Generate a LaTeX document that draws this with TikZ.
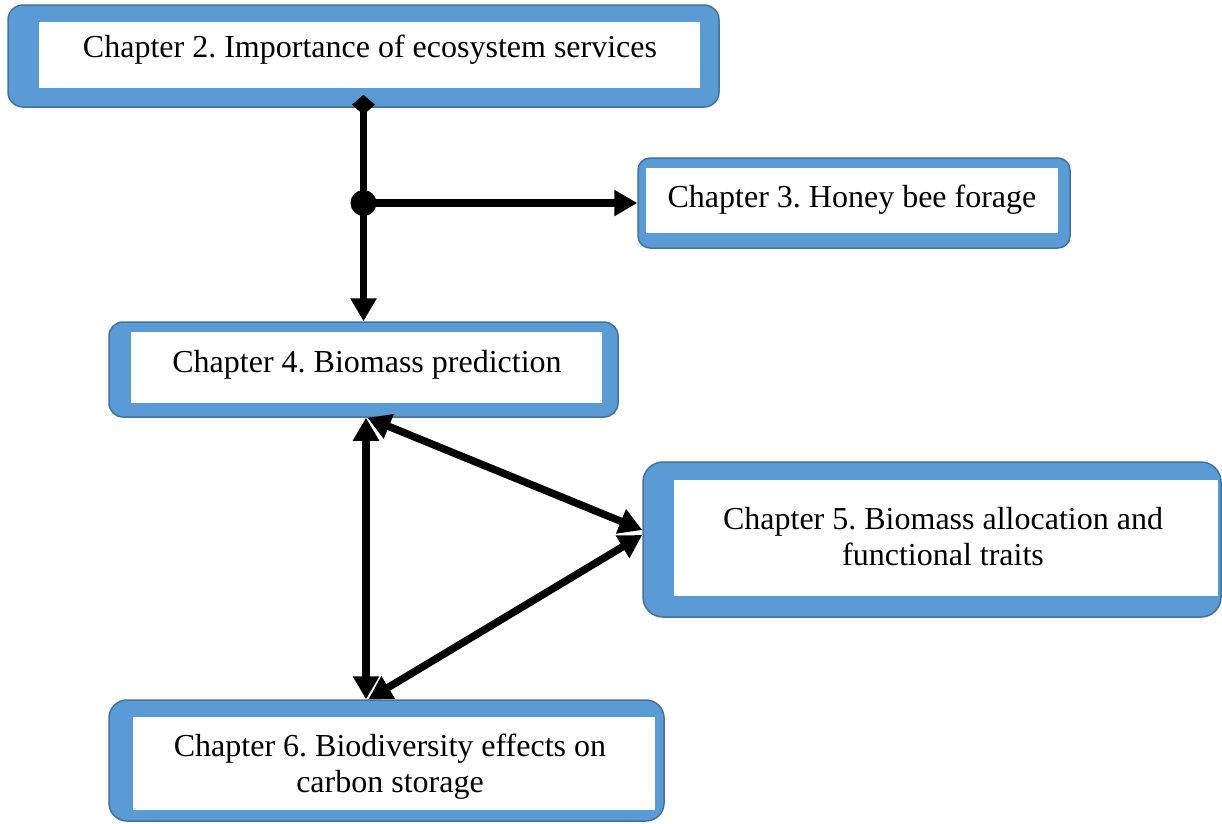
\documentclass[tikz,border=0pt]{standalone}
\usepackage{fontspec}
\setmainfont{Liberation Serif}
\usetikzlibrary{arrows.meta}
\definecolor{boxblue}{HTML}{5B9BD5}
\definecolor{boxedge}{HTML}{41719C}
\frenchspacing
\begin{document}
\begin{tikzpicture}[x=1pt,y=-1pt,
  outer/.style={draw=boxedge, line width=1.5pt, fill=boxblue, inner sep=0pt},
  chtext/.style={font=\fontsize{32}{36}\selectfont, align=center, inner sep=0pt, anchor=base},
  conn/.style={line width=7.5pt, draw=black},
  headend/.style={-{Triangle[length=23pt,width=25pt]}},
  bothend/.style={{Triangle[length=23pt,width=25pt]}-{Triangle[length=23pt,width=25pt]}}
]
\useasboundingbox (0,0) rectangle (1222,823);

% Chapter 2
\node[outer, rounded corners=15pt, minimum width=711pt, minimum height=102pt] (b1) at (363.5,56) {};
\fill[white] (39,22) rectangle (700,88);
\node[chtext] (t1) at (370,57) {Chapter 2. Importance of ecosystem services};

% Chapter 3
\node[outer, rounded corners=12pt, minimum width=432pt, minimum height=90pt] (b2) at (854,203) {};
\fill[white] (646,168) rectangle (1058,233);
\node[chtext] (t2) at (852,207) {Chapter 3. Honey bee forage};

% Chapter 4
\node[outer, rounded corners=14pt, minimum width=509pt, minimum height=95pt] (b3) at (363.5,369.5) {};
\fill[white] (131,332) rectangle (602,403);
\node[chtext] (t3) at (367,372) {Chapter 4. Biomass prediction};

% Chapter 5
\node[outer, rounded corners=20pt, minimum width=578pt, minimum height=155pt] (b4) at (932,539.5) {};
\fill[white] (674,480) rectangle (1218,596);
\node[chtext] (t4) at (943,565) {Chapter 5. Biomass allocation and\\functional traits};

% Chapter 6
\node[outer, rounded corners=18pt, minimum width=555pt, minimum height=121pt] (b5) at (386.5,760.5) {};
\fill[white] (133,717) rectangle (655,810);
\node[chtext] (t5) at (390,792) {Chapter 6. Biodiversity effects on\\carbon storage};

% connectors
\coordinate (d0) at ([yshift=13pt]b1.south);
\coordinate (j) at (b1.south |- b2.west);
\draw[conn, {Diamond[length=20pt,width=23pt]}-{Triangle[length=23pt,width=25pt]}] (d0) -- (b3.north);
\fill (j) circle (13pt);
\draw[conn, headend] (j) -- (b2.west);

\draw[conn, bothend] ([xshift=2.5pt]b3.south) -- ([xshift=2.5pt]b3.south |- b5.north);
\draw[conn, bothend] ([xshift=4pt]b3.south) -- ([yshift=9.5pt]b4.west);
\draw[conn, bothend] ([yshift=4.5pt]b4.west) -- ([xshift=-18pt]b5.north);
\end{tikzpicture}
\end{document}
